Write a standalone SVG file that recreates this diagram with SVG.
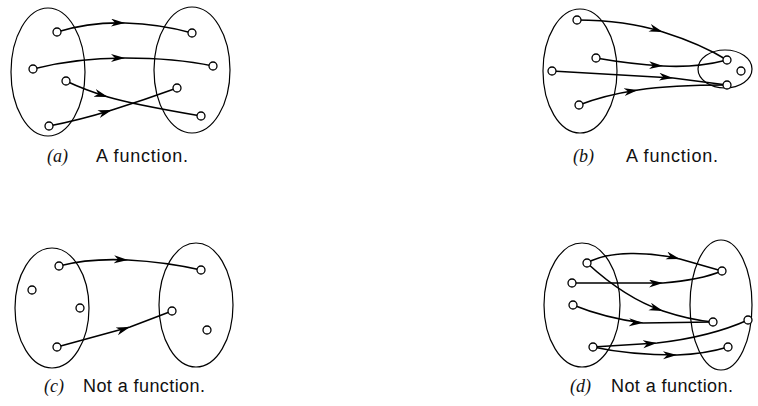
<svg xmlns="http://www.w3.org/2000/svg" width="758" height="406" viewBox="0 0 758 406">
<defs>
<marker id="ah" markerUnits="userSpaceOnUse" markerWidth="18" markerHeight="10" refX="14" refY="4" orient="auto">
<path d="M0,0 L14,4 L0,8 L4,4 Z" fill="#000"/>
</marker>
<style>
.set{fill:none;stroke:#000;stroke-width:1.2}
.pt{fill:#fff;stroke:#000;stroke-width:1.3}
.c{fill:none;stroke:#000;stroke-width:1.6;marker-mid:url(#ah)}
.lbl{font-family:"Liberation Sans",Arial,sans-serif;font-size:18px;fill:#111}
.tag{font-family:"Liberation Serif","Times New Roman",serif;font-style:italic;font-size:18px;fill:#111}
</style>
</defs>
<rect width="758" height="406" fill="#fff"/>
<g id="connectors">
<path class="c" d="M57,32 Q90,22 125,23 T192,33"/>
<path class="c" d="M33,69 Q75,58 125,58 T213,66"/>
<path class="c" d="M66,81 Q85,90 108,97 T201,116"/>
<path class="c" d="M49,126 Q80,120 112,110 T177,88"/>
<path class="c" d="M577,20 Q625,20 663,32 T727,60"/>
<path class="c" d="M596,58 Q630,64 663,66 T727,60"/>
<path class="c" d="M552,71 L673,78 L727,85"/>
<path class="c" d="M579,105 Q605,95 638,90 T727,85"/>
<path class="c" d="M59,266 Q90,258 128,260 T201,270"/>
<path class="c" d="M57,347 L130,327 L172,311"/>
<path class="c" d="M587,263 C610,250 650,252 680,259 L722,271"/>
<path class="c" d="M572,283 L663,283 Q700,280 722,271"/>
<path class="c" d="M587,263 Q625,298 663,311 Q690,320 713,322"/>
<path class="c" d="M573,305 Q605,318 643,323 L713,322"/>
<path class="c" d="M593,347 L657,343 Q710,337 748,320"/>
<path class="c" d="M593,347 Q630,355 677,355 Q705,354 728,347"/>
</g>
<g id="panel-a">
<ellipse class="set" cx="48" cy="72" rx="37" ry="64"/>
<ellipse class="set" cx="192" cy="70" rx="38" ry="63"/>
<circle class="pt" cx="57" cy="32" r="4"/>
<circle class="pt" cx="33" cy="69" r="4"/>
<circle class="pt" cx="66" cy="81" r="4"/>
<circle class="pt" cx="49" cy="126" r="4"/>
<circle class="pt" cx="192" cy="33" r="4"/>
<circle class="pt" cx="213" cy="66" r="4"/>
<circle class="pt" cx="177" cy="88" r="4"/>
<circle class="pt" cx="201" cy="116" r="4"/>
<text class="tag" x="47" y="162">(a)</text>
<text class="lbl" x="96" y="162" textLength="92">A function.</text>
</g>
<g id="panel-b">
<ellipse class="set" cx="580" cy="71" rx="37" ry="62"/>
<ellipse class="set" cx="725" cy="69" rx="27" ry="19"/>
<circle class="pt" cx="577" cy="20" r="4"/>
<circle class="pt" cx="596" cy="58" r="4"/>
<circle class="pt" cx="552" cy="71" r="4"/>
<circle class="pt" cx="579" cy="105" r="4"/>
<circle class="pt" cx="727" cy="60" r="4"/>
<circle class="pt" cx="741" cy="71" r="4"/>
<circle class="pt" cx="727" cy="85" r="4"/>
<text class="tag" x="573" y="162">(b)</text>
<text class="lbl" x="626" y="162" textLength="92">A function.</text>
</g>
<g id="panel-c">
<ellipse class="set" cx="52" cy="308" rx="37" ry="60"/>
<ellipse class="set" cx="196" cy="305" rx="37" ry="62"/>
<circle class="pt" cx="59" cy="266" r="4"/>
<circle class="pt" cx="32" cy="290" r="4"/>
<circle class="pt" cx="80" cy="308" r="4"/>
<circle class="pt" cx="57" cy="347" r="4"/>
<circle class="pt" cx="201" cy="270" r="4"/>
<circle class="pt" cx="172" cy="311" r="4"/>
<circle class="pt" cx="207" cy="330" r="4"/>
<text class="tag" x="44" y="392">(c)</text>
<text class="lbl" x="83" y="392" textLength="122">Not a function.</text>
</g>
<g id="panel-d">
<ellipse class="set" cx="582" cy="305" rx="38" ry="62"/>
<ellipse class="set" cx="721" cy="305" rx="31" ry="65"/>
<circle class="pt" cx="587" cy="263" r="4"/>
<circle class="pt" cx="572" cy="283" r="4"/>
<circle class="pt" cx="573" cy="305" r="4"/>
<circle class="pt" cx="593" cy="347" r="4"/>
<circle class="pt" cx="722" cy="271" r="4"/>
<circle class="pt" cx="713" cy="322" r="4"/>
<circle class="pt" cx="748" cy="320" r="4"/>
<circle class="pt" cx="728" cy="347" r="4"/>
<text class="tag" x="570" y="392">(d)</text>
<text class="lbl" x="611" y="392" textLength="122">Not a function.</text>
</g>
</svg>
